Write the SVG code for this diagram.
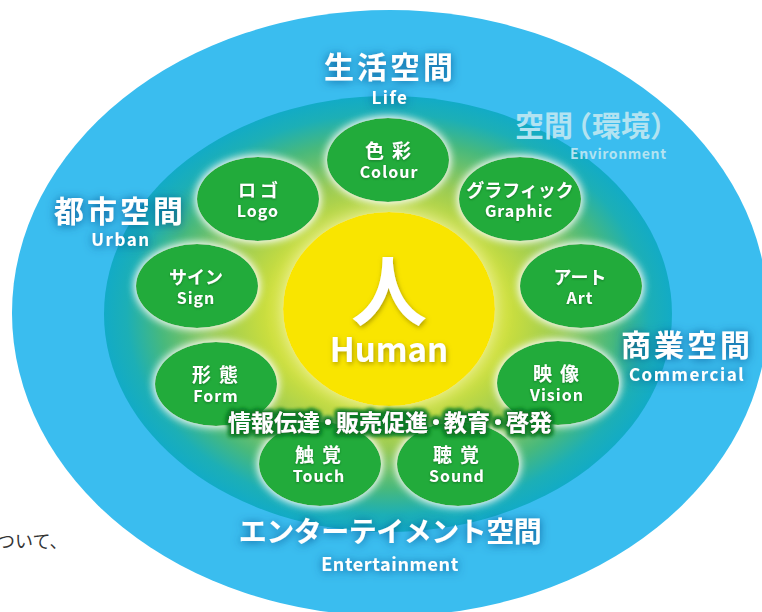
<svg xmlns="http://www.w3.org/2000/svg" width="762" height="612" viewBox="0 0 762 612">
<defs>
<radialGradient id="inner" cx="0.5" cy="0.5" r="0.5">
  <stop offset="0" stop-color="#F2EA1A"/>
  <stop offset="0.42" stop-color="#CDDF3C"/>
  <stop offset="0.62" stop-color="#98CA55"/>
  <stop offset="0.8" stop-color="#48B97C"/>
  <stop offset="0.92" stop-color="#1CAFB6"/>
  <stop offset="1" stop-color="#12ABC6"/>
</radialGradient>
<filter id="nodeGlow" x="-40%" y="-40%" width="180%" height="180%">
  <feGaussianBlur in="SourceAlpha" stdDeviation="5" result="b"/>
  <feFlood flood-color="#FFFFFF" flood-opacity="0.85"/>
  <feComposite in2="b" operator="in" result="g"/>
  <feMerge><feMergeNode in="g"/><feMergeNode in="g"/><feMergeNode in="SourceGraphic"/></feMerge>
</filter>
<filter id="sunGlow" x="-40%" y="-40%" width="180%" height="180%">
  <feGaussianBlur in="SourceAlpha" stdDeviation="9" result="b"/>
  <feFlood flood-color="#FAF8C8" flood-opacity="0.9"/>
  <feComposite in2="b" operator="in" result="g"/>
  <feMerge><feMergeNode in="g"/><feMergeNode in="SourceGraphic"/></feMerge>
</filter>
<filter id="lblShadow" x="-20%" y="-50%" width="140%" height="200%">
  <feGaussianBlur in="SourceAlpha" stdDeviation="5" result="b"/>
  <feFlood flood-color="#0A4B88" flood-opacity="0.85"/>
  <feComposite in2="b" operator="in" result="g"/>
  <feOffset dx="0" dy="1" result="go"/>
  <feMerge><feMergeNode in="go"/><feMergeNode in="SourceGraphic"/></feMerge>
</filter>
<filter id="txtShadow" x="-20%" y="-50%" width="140%" height="200%">
  <feDropShadow dx="0" dy="1" stdDeviation="1.2" flood-color="#0A5A1C" flood-opacity="0.6"/>
</filter>
<filter id="humanShadow" x="-20%" y="-30%" width="140%" height="160%">
  <feDropShadow dx="1" dy="2" stdDeviation="2.5" flood-color="#7A6A00" flood-opacity="0.6"/>
</filter>
<filter id="infoGlow" x="-10%" y="-60%" width="120%" height="220%">
  <feMorphology in="SourceAlpha" operator="dilate" radius="2" result="d"/>
  <feGaussianBlur in="d" stdDeviation="2" result="b"/>
  <feFlood flood-color="#0E7A26" flood-opacity="1"/>
  <feComposite in2="b" operator="in" result="g"/>
  <feMerge><feMergeNode in="g"/><feMergeNode in="g"/><feMergeNode in="SourceGraphic"/></feMerge>
</filter>
<style>
  .t { font-family: "Noto Sans CJK JP", "Noto Sans", sans-serif; font-weight: 700; fill: #FFFFFF; text-anchor: middle; }
  .nodeShape { fill: #23AB3A; }
  .njp { font-size: 18px; }
  .njp2 { font-size: 19px; letter-spacing: 8px; }
  .nen { font-size: 16px; letter-spacing: 1px; }
  .rjp { font-size: 30px; letter-spacing: 3px; }
  .ren { font-size: 17px; letter-spacing: 1.5px; }
  .env { fill: #B3E3F1; text-anchor: start; }
</style>
</defs>

<!-- background stray text -->
<text x="-3" y="548" font-family="Noto Sans CJK JP, sans-serif" font-size="18" fill="#333333">ついて、</text>

<g id="outer-space">
  <ellipse cx="390" cy="313" rx="378" ry="303" fill="#3ABDEF"/>
</g>
<g id="environment">
  <ellipse cx="388" cy="314" rx="284" ry="218" fill="url(#inner)"/>
</g>
<g id="human">
  <ellipse cx="389" cy="309" rx="106" ry="97" fill="#F9E500" filter="url(#sunGlow)"/>
  <text class="t" x="389" y="320" font-size="76" filter="url(#humanShadow)">人</text>
  <text class="t" x="389" y="362" font-size="33" filter="url(#humanShadow)">Human</text>
</g>

<g id="connectors"/>

<g id="node-colour">
  <ellipse class="nodeShape" cx="388" cy="160" rx="61" ry="42" filter="url(#nodeGlow)"/>
  <text class="t njp2" x="392" y="158" filter="url(#txtShadow)">色彩</text>
  <text class="t nen" x="389" y="178" filter="url(#txtShadow)">Colour</text>
</g>
<g id="node-graphic">
  <ellipse class="nodeShape" cx="520" cy="199" rx="61" ry="42" filter="url(#nodeGlow)"/>
  <text class="t njp" x="520" y="197" filter="url(#txtShadow)">グラフィック</text>
  <text class="t nen" x="519" y="217" filter="url(#txtShadow)">Graphic</text>
</g>
<g id="node-art">
  <ellipse class="nodeShape" cx="581" cy="286" rx="61" ry="42" filter="url(#nodeGlow)"/>
  <text class="t njp" x="580" y="284" filter="url(#txtShadow)">アート</text>
  <text class="t nen" x="580" y="304" filter="url(#txtShadow)">Art</text>
</g>
<g id="node-vision">
  <ellipse class="nodeShape" cx="558" cy="383" rx="61" ry="42" filter="url(#nodeGlow)"/>
  <text class="t njp2" x="560" y="381" filter="url(#txtShadow)">映像</text>
  <text class="t nen" x="557" y="401" filter="url(#txtShadow)">Vision</text>
</g>
<g id="node-sound">
  <ellipse class="nodeShape" cx="458" cy="464" rx="61" ry="42" filter="url(#nodeGlow)"/>
  <text class="t njp2" x="460" y="462" filter="url(#txtShadow)">聴覚</text>
  <text class="t nen" x="457" y="482" filter="url(#txtShadow)">Sound</text>
</g>
<g id="node-touch">
  <ellipse class="nodeShape" cx="320" cy="464" rx="61" ry="42" filter="url(#nodeGlow)"/>
  <text class="t njp2" x="322" y="462" filter="url(#txtShadow)">触覚</text>
  <text class="t nen" x="319" y="482" filter="url(#txtShadow)">Touch</text>
</g>
<g id="node-form">
  <ellipse class="nodeShape" cx="216" cy="384" rx="61" ry="42" filter="url(#nodeGlow)"/>
  <text class="t njp2" x="219" y="382" filter="url(#txtShadow)">形態</text>
  <text class="t nen" x="216" y="402" filter="url(#txtShadow)">Form</text>
</g>
<g id="node-sign">
  <ellipse class="nodeShape" cx="197" cy="286" rx="61" ry="42" filter="url(#nodeGlow)"/>
  <text class="t njp" x="196" y="284" filter="url(#txtShadow)">サイン</text>
  <text class="t nen" x="196" y="304" filter="url(#txtShadow)">Sign</text>
</g>
<g id="node-logo">
  <ellipse class="nodeShape" cx="258" cy="199" rx="61" ry="42" filter="url(#nodeGlow)"/>
  <text class="t njp" x="260" y="197" letter-spacing="4" filter="url(#txtShadow)">ロゴ</text>
  <text class="t nen" x="258" y="217" filter="url(#txtShadow)">Logo</text>
</g>

<g id="info-label">
  <text class="t" y="431" font-size="23" style="text-anchor:start" filter="url(#infoGlow)"><tspan x="228">情報伝達</tspan><tspan x="316.5">・</tspan><tspan x="336">販売促進</tspan><tspan x="424.5">・</tspan><tspan x="444">教育</tspan><tspan x="486.5">・</tspan><tspan x="506">啓発</tspan></text>
</g>

<g id="label-life" filter="url(#lblShadow)">
  <text class="t rjp" x="390" y="78">生活空間</text>
  <text class="t ren" x="390" y="104">Life</text>
</g>
<g id="label-urban" filter="url(#lblShadow)">
  <text class="t rjp" x="120" y="222">都市空間</text>
  <text class="t ren" x="121" y="246">Urban</text>
</g>
<g id="label-commercial" filter="url(#lblShadow)">
  <text class="t rjp" x="687" y="356">商業空間</text>
  <text class="t ren" x="687" y="381">Commercial</text>
</g>
<g id="label-entertainment" filter="url(#lblShadow)">
  <text class="t" x="390" y="542" font-size="28" letter-spacing="-0.5">エンターテイメント空間</text>
  <text class="t" x="390" y="571" font-size="18" letter-spacing="0.6">Entertainment</text>
</g>
<g id="label-environment">
  <text class="t env" x="515" y="137" font-size="29">空間<tspan dx="-10">（</tspan><tspan dx="0">環境</tspan>）</text>
  <text class="t env" x="570" y="159" font-size="14" letter-spacing="0.6">Environment</text>
</g>
</svg>
